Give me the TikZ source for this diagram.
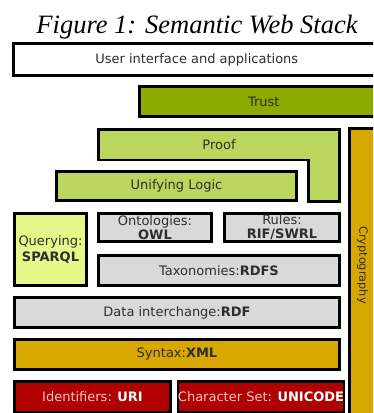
\documentclass[tikz,border=0pt]{standalone}
\usepackage{fontspec}
\setmainfont{Liberation Serif}
\setsansfont{DejaVu Sans}
\definecolor{trustgreen}{HTML}{8DAA00}
\definecolor{logicgreen}{HTML}{BAD65C}
\definecolor{querygreen}{HTML}{E6F88A}
\definecolor{layergray}{HTML}{D9D9D9}
\definecolor{syntaxgold}{HTML}{D8A800}
\definecolor{basered}{HTML}{B00000}
\definecolor{labelgray}{HTML}{2E2E2E}
\definecolor{lightpink}{HTML}{F4C4C4}
\tikzset{
    layer/.style={draw=black, line width=2.5pt, inner sep=0pt, line join=miter},
    graybox/.style={layer, fill=layergray},
    redbox/.style={layer, fill=basered, text=lightpink}
}

\begin{document}
\begin{tikzpicture}[x=1pt, y=-1pt, every node/.style={font=\sffamily\fontsize{13}{14}\selectfont, text=labelgray, align=center}]
    \useasboundingbox (0,0) rectangle (373,413);
    \clip (0,0) rectangle (373,413);

    % Title
    \node[anchor=base, text=black, font=\rmfamily\itshape\fontsize{26.5}{30}\selectfont] (title) at (197,33) {Figure 1: Semantic Web Stack};

    % Top layers
    \node[layer, fill=white, minimum width=366.5pt, minimum height=32pt] (user) at (196.75,59.5) {User interface and applications};
    \node[layer, fill=trustgreen, minimum width=248.5pt, minimum height=30pt] (trust) at (263.75,101.5) {Trust};
    \draw[layer, fill=logicgreen] (98.5,129.5) -- (339.5,129.5) -- (339.5,201.5) -- (308.5,201.5) -- (308.5,160) -- (98.5,160) -- cycle;
    \node (proof) at (219,144.5) {Proof};
    \node[layer, fill=syntaxgold, minimum width=35pt, minimum height=300pt] (crypto) at (367,278.5) {};
    \node[rotate=-90, font=\sffamily\fontsize{11.3}{13}\selectfont] (cryptotext) at (362.5,265) {Cryptography};
    \node[layer, fill=logicgreen, minimum width=240pt, minimum height=29pt] (logic) at (176.5,186) {Unifying Logic};

    % Middle layers
    \node[layer, fill=querygreen, minimum width=72pt, minimum height=72pt, font=\sffamily\fontsize{13}{16}\selectfont] (query) at (50.5,249.5) {Querying:\\\textbf{SPARQL}};
    \node[graybox, minimum width=113pt, minimum height=28pt] (owl) at (155,227.5) {Ontologies:\\\textbf{OWL}};
    \node[graybox, minimum width=115pt, minimum height=28pt] (rules) at (282,227.5) {Rules:\\\textbf{RIF/SWRL}};
    \node[graybox, minimum width=241pt, minimum height=30pt] (rdfs) at (219,270.5) {Taxonomies:\textbf{RDFS}};
    \node[graybox, minimum width=325pt, minimum height=30pt] (rdf) at (177,312.5) {Data interchange:\textbf{RDF}};

    % Bottom layers
    \node[layer, fill=syntaxgold, minimum width=325pt, minimum height=30pt] (xml) at (177,354.5) {Syntax:\textbf{XML}};
    \node[redbox, minimum width=156pt, minimum height=31pt] (uri) at (92.5,397) {Identifiers: \textcolor{white}{\textbf{URI}}};
    \node[redbox, minimum width=157pt, minimum height=31pt] (unicode) at (261,397) {Character Set: \textcolor{white}{\textbf{UNICODE}}};
\end{tikzpicture}
\end{document}
